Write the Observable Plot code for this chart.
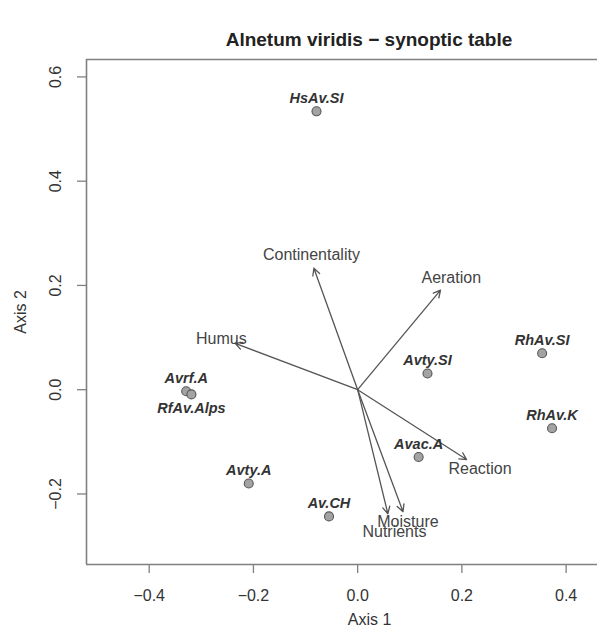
<!DOCTYPE html>
<html><head><meta charset="utf-8">
<script src="https://cdn.jsdelivr.net/npm/d3@7"></script>
<script src="https://cdn.jsdelivr.net/npm/@observablehq/plot@0.6"></script>
<style>
body{margin:0;background:#fff;overflow:hidden;font-family:"Liberation Sans",Arial,Helvetica,sans-serif;}
#title{height:50px;box-sizing:border-box;padding-left:141px;padding-top:30px;text-align:center;font-weight:bold;font-size:19px;line-height:20px;color:#222;white-space:nowrap;}
#chart svg{display:block;font-family:"Liberation Sans",Arial,Helvetica,sans-serif;}
</style></head><body>
<div id="title">Alnetum viridis − synoptic table</div>
<div id="chart"></div>
<script>
// Site scores
const sites = ["HsAv.SI","Avrf.A","RfAv.Alps","Avty.A","Av.CH","Avac.A","Avty.SI","RhAv.SI","RhAv.K"];
const siteX = [-0.079, -0.329, -0.319, -0.209, -0.055, 0.117, 0.134, 0.354, 0.373];
const siteY = [0.534, -0.003, -0.009, -0.180, -0.243, -0.129, 0.031, 0.070, -0.074];
// Environmental vectors (arrow tips) and their label anchors
const envVars = ["Continentality","Aeration","Humus","Reaction","Moisture","Nutrients"];
const envX = [-0.084, 0.159, -0.235, 0.209, 0.087, 0.058];
const envY = [0.233, 0.191, 0.089, -0.134, -0.234, -0.238];
const envLabelX = [-0.0887, 0.1796, -0.2616, 0.2348, 0.0965, 0.0706];
const envLabelY = [0.2578, 0.2136, 0.0979, -0.1516, -0.2542, -0.2734];
// Axes
const xTicks = [-0.4, -0.2, 0.0, 0.2, 0.4];
const yTicks = [-0.2, 0.0, 0.2, 0.4, 0.6];
const xDomain = [-0.5203, 0.4602];
const yDomain = [-0.3353, 0.6334];
const xTitle = "Axis 1";
const yTitle = "Axis 2";

const siteIdx = d3.range(sites.length);
const envIdx = d3.range(envVars.length);
const fmt = d3.format(".1f");
const axisColor = "#808080";
const textColor = "#333";

const chart = Plot.plot({
  width: 597,
  height: 590,
  marginTop: 9,
  marginBottom: 76,
  marginLeft: 86,
  marginRight: 0,
  style: {background: "#fff", color: textColor},
  x: {domain: xDomain, axis: null},
  y: {domain: yDomain, axis: null},
  marks: [
    // frame (left, top, bottom)
    Plot.ruleX([xDomain[0]], {stroke: axisColor, strokeWidth: 1.6}),
    Plot.ruleY([yDomain[0], yDomain[1]], {stroke: axisColor, strokeWidth: 1.6}),
    // tick marks
    Plot.axisX({ticks: xTicks, tickSize: 9, tickFormat: () => "", stroke: axisColor, strokeWidth: 1.3, label: null, anchor: "bottom"}),
    Plot.axisY({ticks: yTicks, tickSize: 9, tickFormat: () => "", stroke: axisColor, strokeWidth: 1.3, label: null, anchor: "left"}),
    // tick labels
    Plot.text(xTicks, {x: d => d, frameAnchor: "bottom", dy: 31, text: d => fmt(d), fontSize: 16, fill: textColor, lineAnchor: "middle"}),
    Plot.text(yTicks, {y: d => d, frameAnchor: "left", dx: -31, text: d => fmt(d), fontSize: 16, fill: textColor, rotate: -90, textAnchor: "middle", lineAnchor: "middle"}),
    // axis titles
    Plot.text([xTitle], {frameAnchor: "bottom", dx: 27.5, dy: 55, text: d => d, fontSize: 16, fill: textColor, lineAnchor: "middle"}),
    Plot.text([yTitle], {frameAnchor: "left", dx: -66, text: d => d, fontSize: 16, fill: textColor, rotate: -90, textAnchor: "middle", lineAnchor: "middle"}),
    // environmental arrows
    Plot.arrow(envIdx, {x1: () => 0, y1: () => 0, x2: i => envX[i], y2: i => envY[i], stroke: "#555", strokeWidth: 1.3, headLength: 9, headAngle: 55}),
    Plot.text(envIdx, {x: i => envLabelX[i], y: i => envLabelY[i], text: i => envVars[i], fontSize: 16, fill: "#444", lineAnchor: "middle"}),
    // sites
    Plot.dot(siteIdx, {x: i => siteX[i], y: i => siteY[i], r: 4.5, fill: "#a3a3a3", stroke: "#555", strokeWidth: 1.1}),
    Plot.text(siteIdx.filter(i => sites[i] !== "RfAv.Alps"), {x: i => siteX[i], y: i => siteY[i], text: i => sites[i], dy: -13, fontSize: 14.5, fontWeight: "bold", fontStyle: "italic", fill: textColor, lineAnchor: "middle"}),
    Plot.text(siteIdx.filter(i => sites[i] === "RfAv.Alps"), {x: i => siteX[i], y: i => siteY[i], text: i => sites[i], dy: 14, fontSize: 14.5, fontWeight: "bold", fontStyle: "italic", fill: textColor, lineAnchor: "middle"})
  ]
});
document.getElementById("chart").appendChild(chart);
</script>
</body></html>
